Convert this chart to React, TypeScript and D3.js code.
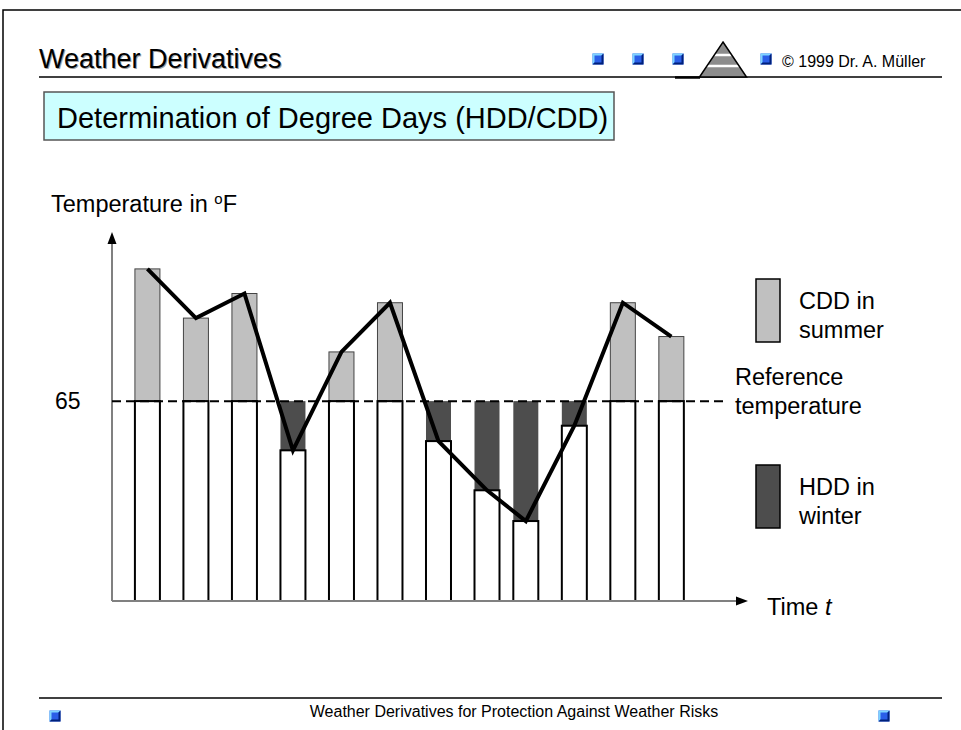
import * as d3 from 'd3'

// bar positions along the time axis and the day temperatures (°F)
const DAYS = [1, 2, 3, 4, 5, 6, 7, 8, 8.8, 9.8, 10.8, 11.8]
const TEMPS = [108, 92, 100, 49, 81, 97, 52, 36, 26, 57, 97, 86]
const REFERENCE = 65
const Y_TICKS = [65]
const X_DOMAIN: [number, number] = [0.27, 13.38]
const Y_DOMAIN: [number, number] = [0, 120]

const W = 961
const H = 730
const FONT = '"Liberation Sans", Arial, Helvetica, sans-serif'
const BAR_W = 25
const CDD_FILL = '#c0c0c0'
const HDD_FILL = '#4d4d4d'

const x = d3.scaleLinear().domain(X_DOMAIN).range([112, 748])
const y = d3.scaleLinear().domain(Y_DOMAIN).range([601, 232])

function Bullet({ cx, cy, s = 11 }: { cx: number; cy: number; s?: number }) {
  const b = 2
  return (
    <g transform={`translate(${cx - s / 2},${cy - s / 2})`}>
      <rect width={s} height={s} fill="#2a5ee8" />
      <polygon points={`0,0 ${s},0 ${s - b},${b} ${b},${b} ${b},${s - b} 0,${s}`} fill="#7fd4ff" />
      <polygon
        points={`${s},0 ${s},${s} 0,${s} ${b},${s - b} ${s - b},${s - b} ${s - b},${b}`}
        fill="#00207a"
      />
    </g>
  )
}

function Pyramid() {
  const ax = 723
  const ay = 42
  const by = 77
  const half = 23.5
  const edge = (yy: number) => (half * (yy - ay)) / (by - ay)
  return (
    <g>
      <polygon points={`${ax},${ay} ${ax + half},${by} ${ax - half},${by}`} fill="#8c8c8c" />
      {[55, 66].map((yy) => (
        <line
          key={yy}
          x1={ax - edge(yy)}
          x2={ax + edge(yy)}
          y1={yy}
          y2={yy}
          stroke="#fff"
          strokeWidth={2.5}
        />
      ))}
      <polygon
        points={`${ax},${ay} ${ax + half},${by} ${ax - half},${by}`}
        fill="none"
        stroke="#000"
        strokeWidth={1.5}
      />
    </g>
  )
}

export default function App() {
  const ref = y(REFERENCE)
  const base = y(0)
  const x0 = x(X_DOMAIN[0])
  const x1 = x(X_DOMAIN[1])
  const yTop = y(Y_DOMAIN[1])
  const line = d3
    .line<number>()
    .x((_, i) => x(DAYS[i]))
    .y((t) => y(t))

  return (
    <svg
      width={W}
      height={H}
      viewBox={`0 0 ${W} ${H}`}
      style={{ position: 'absolute', left: 0, top: 0, background: '#fff' }}
      fontFamily={FONT}
    >
      {/* page frame */}
      <path d={`M3,${H} V10 H${W}`} fill="none" stroke="#000" strokeWidth={1.5} />

      {/* header */}
      <text x={40} y={69} fontSize={27} fill="#a0a0a0">Weather Derivatives</text>
      <text x={39} y={68} fontSize={27} fill="#000">Weather Derivatives</text>
      <line x1={39} x2={942} y1={77} y2={77} stroke="#000" strokeWidth={1.5} />
      <line x1={675} x2={700} y1={77.5} y2={77.5} stroke="#000" strokeWidth={2.5} />
      {[598, 638, 678, 766].map((cx) => (
        <Bullet key={cx} cx={cx} cy={59} />
      ))}
      <Pyramid />
      <text x={782} y={67} fontSize={16}>© 1999 Dr. A. Müller</text>

      {/* title box */}
      <rect x={44} y={92} width={570} height={48} fill="#ccffff" stroke="#555" strokeWidth={1.5} />
      <text x={57} y={128} fontSize={29}>Determination of Degree Days (HDD/CDD)</text>

      {/* bars */}
      {DAYS.map((d, i) => {
        const t = TEMPS[i]
        const left = x(d) - BAR_W / 2
        return (
          <g key={d}>
            {t > REFERENCE && (
              <rect x={left} y={y(t)} width={BAR_W} height={ref - y(t)} fill={CDD_FILL} stroke="#444" strokeWidth={1} />
            )}
            {t < REFERENCE && (
              <rect x={left} y={ref} width={BAR_W} height={y(t) - ref} fill={HDD_FILL} />
            )}
            <rect
              x={left}
              y={y(Math.min(t, REFERENCE))}
              width={BAR_W}
              height={base - y(Math.min(t, REFERENCE))}
              fill="#fff"
              stroke="#000"
              strokeWidth={2}
            />
          </g>
        )
      })}

      {/* axes */}
      <line x1={x0} x2={x0} y1={base} y2={yTop + 10} stroke="#808080" strokeWidth={2} />
      <polygon points={`${x0},${yTop} ${x0 + 4.5},${yTop + 12} ${x0 - 4.5},${yTop + 12}`} fill="#000" />
      <line x1={x0} x2={x1 - 10} y1={base} y2={base} stroke="#808080" strokeWidth={2} />
      <polygon points={`${x1},${base} ${x1 - 12},${base - 4.5} ${x1 - 12},${base + 4.5}`} fill="#000" />

      {/* reference temperature */}
      <line x1={x0} x2={727} y1={ref} y2={ref} stroke="#000" strokeWidth={2} strokeDasharray="9 5" />

      {/* daily temperature path */}
      <path d={line(TEMPS) ?? undefined} fill="none" stroke="#000" strokeWidth={4} strokeLinejoin="miter" />

      {/* axis labels */}
      {Y_TICKS.map((tick) => (
        <text key={tick} x={55} y={y(tick) + 8} fontSize={23}>{tick}</text>
      ))}
      <text x={51} y={212} fontSize={23.5}>
        Temperature in <tspan fontSize={15} dy={-8}>o</tspan>
        <tspan dy={8}>F</tspan>
      </text>
      <text x={767} y={615} fontSize={23.5}>
        Time <tspan fontStyle="italic">t</tspan>
      </text>

      {/* legend */}
      <rect x={756} y={279} width={24} height={63} fill={CDD_FILL} stroke="#000" strokeWidth={1.5} />
      <text x={799} y={309} fontSize={23.5}>CDD in</text>
      <text x={799} y={338} fontSize={23.5}>summer</text>
      <text x={735} y={385} fontSize={23.5}>Reference</text>
      <text x={735} y={414} fontSize={23.5}>temperature</text>
      <rect x={756} y={465} width={24} height={63} fill={HDD_FILL} stroke="#000" strokeWidth={1.5} />
      <text x={799} y={495} fontSize={23.5}>HDD in</text>
      <text x={799} y={524} fontSize={23.5}>winter</text>

      {/* footer */}
      <line x1={39} x2={942} y1={698} y2={698} stroke="#000" strokeWidth={1.5} />
      <text x={514} y={717} fontSize={16} textAnchor="middle">
        Weather Derivatives for Protection Against Weather Risks
      </text>
      <Bullet cx={55} cy={716} />
      <Bullet cx={884} cy={716} />
    </svg>
  )
}
